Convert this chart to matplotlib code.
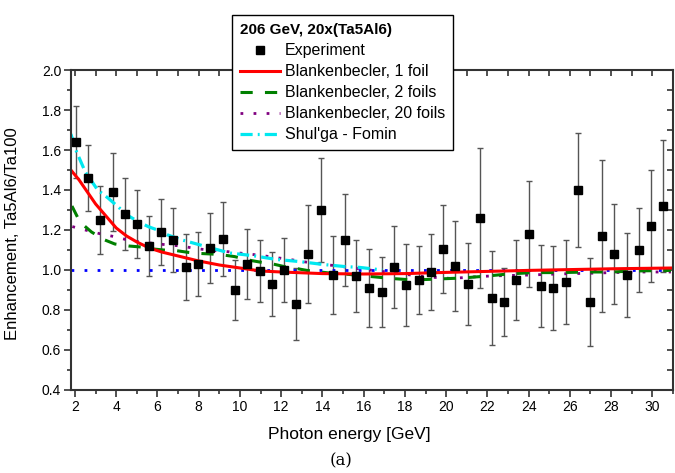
import numpy as np
from matplotlib import pyplot as plt
from matplotlib.ticker import MultipleLocator

plt.rcParams['font.family'] = ['Liberation Sans', 'DejaVu Sans']

# experiment points
energy = [2.03, 2.61, 3.21, 3.82, 4.42, 5.00, 5.59, 6.19, 6.77, 7.38, 7.96, 8.56,
          9.17, 9.77, 10.35, 10.95, 11.54, 12.14, 12.73, 13.32, 13.91, 14.51, 15.10,
          15.64, 16.28, 16.89, 17.47, 18.07, 18.67, 19.26, 19.84, 20.44, 21.04, 21.63,
          22.21, 22.81, 23.41, 24.00, 24.60, 25.18, 25.79, 26.37, 26.97, 27.56, 28.16,
          28.76, 29.35, 29.95, 30.53]
enh = [1.64, 1.46, 1.25, 1.39, 1.28, 1.23, 1.12, 1.19, 1.15, 1.015, 1.03, 1.11,
       1.155, 0.90, 1.03, 0.995, 0.93, 1.00, 0.83, 1.08, 1.30, 0.977, 1.15,
       0.97, 0.91, 0.89, 1.017, 0.925, 0.95, 0.99, 1.105, 1.02, 0.93, 1.26,
       0.86, 0.84, 0.95, 1.18, 0.92, 0.91, 0.94, 1.40, 0.84, 1.17, 1.08,
       0.975, 1.10, 1.22, 1.32]
enh_err = [0.18, 0.165, 0.17, 0.195, 0.18, 0.17, 0.15, 0.165, 0.16, 0.165, 0.16, 0.175,
           0.185, 0.15, 0.175, 0.155, 0.16, 0.16, 0.18, 0.245, 0.26, 0.195, 0.23,
           0.18, 0.195, 0.175, 0.205, 0.205, 0.17, 0.19, 0.22, 0.225, 0.205, 0.35,
           0.235, 0.17, 0.2, 0.265, 0.205, 0.21, 0.21, 0.285, 0.22, 0.38, 0.25,
           0.21, 0.21, 0.28, 0.33]

# theory curves
bb1_x = [1.8, 2.2, 2.6, 3.0, 3.5, 4.0, 4.5, 5.0, 5.6, 6.2, 7.0, 8.0, 9.0, 10.0,
         11.0, 12.0, 14.0, 16.0, 18.0, 20.0, 22.0, 24.0, 26.0, 28.0, 31.0]
bb1_y = [1.50, 1.45, 1.39, 1.33, 1.27, 1.21, 1.17, 1.14, 1.11, 1.09, 1.07, 1.045,
         1.025, 1.01, 0.995, 0.99, 0.982, 0.98, 0.982, 0.988, 0.993, 0.998, 1.002,
         1.006, 1.01]

bb2_x = [1.85, 2.24, 2.8, 3.45, 3.93, 4.6, 5.2, 5.8, 6.3, 6.9, 7.5, 8.0, 8.6, 9.2,
         9.74, 10.4, 10.95, 11.6, 12.15, 12.7, 13.3, 13.9, 14.5, 15.1, 15.8, 16.5,
         17.3, 18.4, 19.6, 20.8, 22.0, 23.0, 24.2, 25.4, 27.0, 28.0, 29.1, 30.9]
bb2_y = [1.32, 1.24, 1.19, 1.15, 1.13, 1.12, 1.115, 1.105, 1.10, 1.097, 1.088, 1.083,
         1.08, 1.075, 1.067, 1.05, 1.04, 1.03, 1.017, 1.008, 0.997, 0.99, 0.983,
         0.98, 0.972, 0.966, 0.958, 0.95, 0.955, 0.96, 0.97, 0.98, 0.987, 0.987,
         0.99, 0.99, 0.995, 0.998]

bb20_x = [1.87, 2.61, 3.26, 3.9, 4.55, 5.19, 5.83, 6.51, 7.16, 7.8, 8.45, 9.14,
          9.78, 10.43, 11.1, 11.75, 12.4, 13.04, 13.69, 14.33, 14.97, 16.26, 16.96,
          17.6, 18.28, 18.92, 19.57, 20.2, 20.86, 21.53, 22.18, 22.84, 24.16, 24.8,
          25.45, 26.1, 26.74, 27.4, 28.03, 28.67, 29.3, 30.9]
bb20_y = [1.217, 1.197, 1.18, 1.167, 1.15, 1.14, 1.133, 1.125, 1.12, 1.108, 1.10,
          1.095, 1.087, 1.08, 1.072, 1.062, 1.053, 1.042, 1.033, 1.025, 1.017, 1.0,
          0.992, 0.983, 0.975, 0.967, 0.962, 0.958, 0.962, 0.967, 0.97, 0.972,
          0.975, 0.978, 0.98, 0.982, 0.983, 0.985, 0.987, 0.988, 0.99, 0.99]

sf_x = [1.8, 2.08, 2.5, 3.1, 3.6, 4.1, 4.6, 5.1, 5.55, 6.0, 6.5, 7.2, 7.9, 8.6,
        9.5, 10.6, 11.75, 12.9, 14.0, 15.1, 15.8, 16.9]
sf_y = [1.68, 1.59, 1.49, 1.40, 1.36, 1.315, 1.27, 1.24, 1.217, 1.20, 1.175, 1.15,
        1.13, 1.11, 1.085, 1.072, 1.053, 1.042, 1.028, 1.017, 1.013, 1.0]

unity_x = [1.8, 30.9]
unity_y = [1.0, 1.0]

fig = plt.figure(figsize=(6.75, 4.73), dpi=100)
ax = fig.add_axes([0.105, 0.1755, 0.892, 0.6765])

ax.errorbar(energy, enh, yerr=enh_err, fmt='none', ecolor='#555555',
            elinewidth=1.0, capsize=2.4, capthick=1.0, zorder=1)
ax.plot(unity_x, unity_y, color='#0000ff', lw=2, dashes=(1, 3.7), zorder=2)
ax.plot(bb20_x, bb20_y, color='#800080', lw=2, dashes=(1, 3.7), zorder=2)
ax.plot(bb2_x, bb2_y, color='#008000', lw=2.2, dashes=(4, 4), zorder=2)
ax.plot(sf_x, sf_y, color='#00e8f0', lw=2.3, dashes=(3.8, 1.6, 0.6, 1.6), zorder=2)
ax.plot(bb1_x, bb1_y, color='#ff0000', lw=2.2, zorder=2)
ax.plot(energy, enh, 's', color='black', ms=5.8, ls='none', zorder=3)

ax.set_xlim(1.8, 31)
ax.set_ylim(0.4, 2.0)
ax.xaxis.set_major_locator(MultipleLocator(2))
ax.xaxis.set_minor_locator(MultipleLocator(1))
ax.yaxis.set_major_locator(MultipleLocator(0.2))
ax.yaxis.set_minor_locator(MultipleLocator(0.1))
ax.yaxis.set_major_formatter(lambda v, p: '%.1f' % v)

for s in ax.spines.values():
    s.set_color('#333333')
    s.set_linewidth(1.5)
ax.tick_params(which='major', direction='out', length=5, width=1.2, color='#333333',
               labelsize=10, pad=2)
ax.tick_params(which='minor', direction='out', length=3, width=1.2, color='#333333')

top = ax.secondary_xaxis('top')
top.xaxis.set_major_locator(MultipleLocator(1))
top.tick_params(direction='in', length=4, width=1.2, color='#333333', labeltop=False)
top.spines['top'].set_visible(False)
right = ax.secondary_yaxis('right')
right.yaxis.set_major_locator(MultipleLocator(0.1))
right.tick_params(direction='in', length=4, width=1.2, color='#333333', labelright=False)
right.spines['right'].set_visible(False)

ax.set_xlabel('Photon energy [GeV]', fontsize=12.5)
ax.xaxis.set_label_coords(0.462, -0.115)
ax.set_ylabel('Enhancement, Ta5Al6/Ta100', fontsize=12)
ax.yaxis.set_label_coords(-0.085, 0.49)

h_exp, = ax.plot([], [], 's', color='black', ms=5.8)
h1, = ax.plot([], [], color='#ff0000', lw=2.2)
h2, = ax.plot([], [], color='#008000', lw=2.2, dashes=(4, 4))
h20, = ax.plot([], [], color='#800080', lw=2, dashes=(1, 3.7))
hsf, = ax.plot([], [], color='#00e8f0', lw=2.3, dashes=(3.8, 1.6, 0.6, 1.6))
leg = ax.legend([h_exp, h1, h2, h20, hsf],
                ['Experiment', 'Blankenbecler, 1 foil', 'Blankenbecler, 2 foils',
                 'Blankenbecler, 20 foils', "Shul'ga - Fomin"],
                title='206 GeV, 20x(Ta5Al6)', alignment='left',
                title_fontproperties={'weight': 'bold', 'size': 11},
                loc='upper left', bbox_to_anchor=(0.344, 0.968),
                bbox_transform=fig.transFigure, fontsize=11.5, frameon=True,
                fancybox=False, edgecolor='black', framealpha=1,
                handlelength=2.5, handletextpad=0.3, labelspacing=0.38,
                borderpad=0.5, borderaxespad=0)
leg.get_frame().set_linewidth(1.0)
leg.set_zorder(10)

fig.text(0.505, 0.016, '(a)', fontsize=12, family='DejaVu Serif', ha='center')

fig.savefig('out.png', dpi=100)
